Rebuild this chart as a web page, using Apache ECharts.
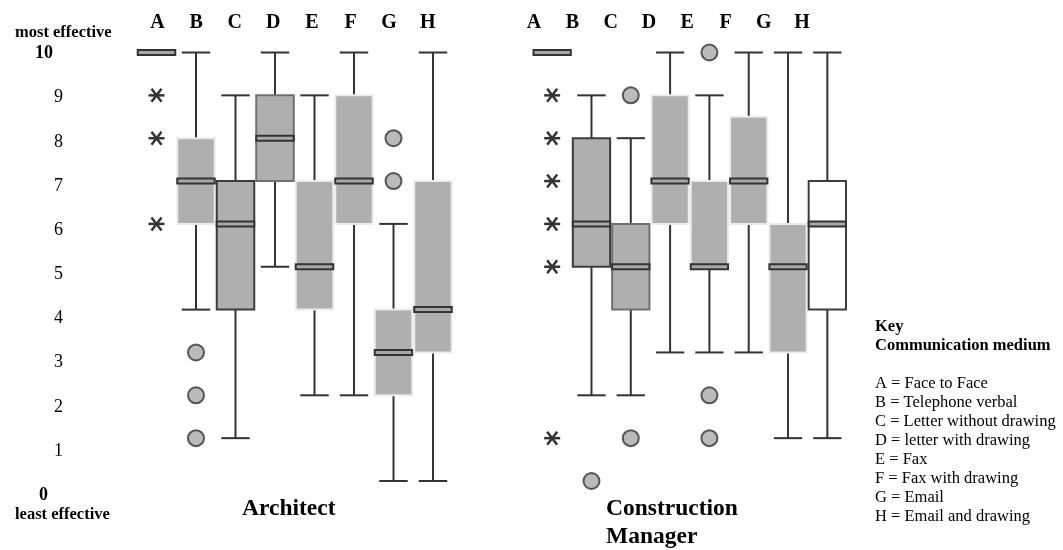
<!DOCTYPE html>
<html>
<head>
<meta charset="utf-8">
<script src="https://cdn.jsdelivr.net/npm/echarts@6/dist/echarts.min.js"></script>
<style>
html,body{margin:0;padding:0;background:#fff}
#c{width:1063px;height:550px}
</style>
</head>
<body>
<div id="c"></div>
<script>
// ---------- data ----------
const categories = ['A', 'B', 'C', 'D', 'E', 'F', 'G', 'H'];
const yTicks = [0, 1, 2, 3, 4, 5, 6, 7, 8, 9, 10];
// [min, q1, median, q3, max] per category
const architectBoxes = [
  [10, 10, 10, 10, 10],
  [4, 6, 7, 8, 10],
  [1, 4, 6, 7, 9],
  [5, 7, 8, 9, 10],
  [2, 4, 5, 7, 9],
  [2, 6, 7, 9, 10],
  [0, 2, 3, 4, 6],
  [0, 3, 4, 7, 10]
];
const architectOutliers = [[1, 3], [1, 2], [1, 1], [6, 8], [6, 7]];
const architectExtremes = [[0, 9], [0, 8], [0, 6]];
const managerBoxes = [
  [10, 10, 10, 10, 10],
  [2, 5, 6, 8, 9],
  [2, 4, 5, 6, 8],
  [3, 6, 7, 9, 10],
  [3, 5, 5, 7, 9],
  [3, 6, 7, 8.5, 10],
  [1, 3, 5, 6, 10],
  [1, 4, 6, 7, 10]
];
const managerOutliers = [[1, 0], [2, 9], [2, 1], [4, 10], [4, 2], [4, 1]];
const managerExtremes = [[0, 9], [0, 8], [0, 7], [0, 6], [0, 5], [0, 1]];
const panelTitles = ['Architect', 'Construction\nManager'];
const keyTitle = ['Key', 'Communication medium'];
const keyLabels = [
  'A = Face to Face',
  'B = Telephone verbal',
  'C = Letter without drawing',
  'D = letter with drawing',
  'E = Fax',
  'F = Fax with drawing',
  'G = Email',
  'H = Email and drawing'
];

// ---------- styles ----------
const SERIF = '"Liberation Serif", "Times New Roman", serif';
const BOX_FILL = '#afafaf';
const LIGHT = '#ececec', DARK = '#3d3d3d', MID = '#707070';
const architectStroke = [null, LIGHT, DARK, MID, LIGHT, LIGHT, LIGHT, LIGHT];
const architectFill = [BOX_FILL, BOX_FILL, BOX_FILL, BOX_FILL, BOX_FILL, BOX_FILL, BOX_FILL, BOX_FILL];
const managerStroke = [null, DARK, MID, LIGHT, LIGHT, LIGHT, LIGHT, DARK];
const managerFill = [BOX_FILL, BOX_FILL, BOX_FILL, BOX_FILL, BOX_FILL, BOX_FILL, BOX_FILL, '#ffffff'];

function boxRows(boxes) {
  return boxes.map((b, i) => [i].concat(b));
}

function makeBoxRender(strokes, fills) {
  return function (params, api) {
    const i = api.value(0);
    const vmin = api.value(1), q1 = api.value(2), med = api.value(3), q3 = api.value(4), vmax = api.value(5);
    const cx = api.coord([i, med])[0];
    const y = v => api.coord([i, v])[1];
    const bw = api.size([1, 0])[0];
    const half = bw / 2;
    const capHalf = bw * 0.36;
    const ls = { stroke: '#333', lineWidth: 2 };
    const ch = [];
    if (vmax > q3) {
      ch.push({ type: 'line', shape: { x1: cx, y1: y(vmax), x2: cx, y2: y(q3) }, style: ls });
      ch.push({ type: 'line', shape: { x1: cx - capHalf, y1: y(vmax), x2: cx + capHalf, y2: y(vmax) }, style: ls });
    }
    if (vmin < q1) {
      ch.push({ type: 'line', shape: { x1: cx, y1: y(q1), x2: cx, y2: y(vmin) }, style: ls });
      ch.push({ type: 'line', shape: { x1: cx - capHalf, y1: y(vmin), x2: cx + capHalf, y2: y(vmin) }, style: ls });
    }
    const idx = params.dataIndex;
    if (q3 > q1) {
      ch.push({
        type: 'rect',
        shape: { x: cx - half + 1, y: y(q3), width: bw - 2, height: y(q1) - y(q3) },
        style: { fill: fills[idx], stroke: strokes[idx] || 'none', lineWidth: 2 }
      });
    }
    ch.push({
      type: 'rect',
      shape: { x: cx - half + 1, y: y(med) - 2.5, width: bw - 2, height: 5 },
      style: { fill: '#a8a8a8', stroke: '#333', lineWidth: 2 }
    });
    return { type: 'group', children: ch };
  };
}

function renderAsterisk(params, api) {
  const p = api.coord([api.value(0), api.value(1)]);
  const x = p[0], y = p[1];
  const st = { stroke: '#333', lineWidth: 2.5 };
  return {
    type: 'group',
    children: [
      { type: 'line', shape: { x1: x - 8, y1: y, x2: x + 8, y2: y }, style: st },
      { type: 'line', shape: { x1: x - 5, y1: y - 6.5, x2: x + 5, y2: y + 6.5 }, style: st },
      { type: 'line', shape: { x1: x + 5, y1: y - 6.5, x2: x - 5, y2: y + 6.5 }, style: st }
    ]
  };
}

const chart = echarts.init(document.getElementById('c'), null, { renderer: 'canvas' });

const hiddenCat = g => ({ type: 'category', gridIndex: g, data: categories, show: false, boundaryGap: true });
const hiddenVal = g => ({ type: 'value', gridIndex: g, min: 0, max: 10, show: false });
const letterAxis = g => ({
  type: 'category', gridIndex: g, data: categories, position: 'top', boundaryGap: true,
  axisLine: { show: false }, axisTick: { show: false },
  axisLabel: { margin: 19, fontFamily: SERIF, fontWeight: 'bold', fontSize: 20, lineHeight: 20, color: '#000', interval: 0 }
});

const scatterStyle = { color: '#a9a9a9', borderColor: '#333', borderWidth: 2 };

const option = {
  animation: false,
  backgroundColor: '#fff',
  title: [
    { text: panelTitles[0], left: 242, top: 496, padding: 0,
      textStyle: { fontFamily: SERIF, fontWeight: 'bold', fontSize: 23.5, lineHeight: 26, color: '#000' } },
    { text: panelTitles[1], left: 606, top: 495, padding: 0,
      textStyle: { fontFamily: SERIF, fontWeight: 'bold', fontSize: 23.5, lineHeight: 28, color: '#000' } }
  ],
  grid: [
    { left: 136.75, width: 316, top: 52.5, height: 428.5 },
    { left: 532.5, width: 314.5, top: 52.5, height: 428.5 },
    { left: 138.2, width: 308.8, top: 52, height: 100 },
    { left: 514.85, width: 306.4, top: 52, height: 100 },
    { left: 70, width: 10, top: 53.5, height: 441.8 }
  ],
  xAxis: [
    hiddenCat(0), hiddenCat(1), letterAxis(2), letterAxis(3),
    { type: 'value', gridIndex: 4, show: false }
  ],
  yAxis: [
    hiddenVal(0), hiddenVal(1), hiddenVal(2), hiddenVal(3),
    {
      type: 'value', gridIndex: 4, min: yTicks[0], max: yTicks[yTicks.length - 1], interval: 1,
      axisLine: { show: false }, axisTick: { show: false }, splitLine: { show: false },
      axisLabel: {
        margin: 7, fontFamily: SERIF, fontSize: 18, color: '#000',
        formatter: v => v === 10 ? '{b10|10}' : (v === 0 ? '{b0|0}' : String(v)),
        rich: {
          b10: { fontFamily: SERIF, fontWeight: 'bold', fontSize: 18, padding: [0, 10, 0, 0] },
          b0: { fontFamily: SERIF, fontWeight: 'bold', fontSize: 18, padding: [0, 15, 0, 0] }
        }
      }
    }
  ],
  graphic: [
    { type: 'text', x: 15, y: 33, style: { text: 'most effective', font: 'bold 16.5px ' + SERIF, fill: '#000', verticalAlign: 'middle' } },
    { type: 'text', x: 15, y: 515, style: { text: 'least effective', font: 'bold 16.5px ' + SERIF, fill: '#000', verticalAlign: 'middle' } }
  ].concat(keyTitle.map((t, k) => ({
    type: 'text', x: 875, y: 327 + 18.5 * k,
    style: { text: t, font: 'bold 16.5px ' + SERIF, fill: '#000', verticalAlign: 'middle' }
  }))).concat(keyLabels.map((t, k) => ({
    type: 'text', x: 875, y: 383.5 + 19 * k,
    style: { text: t, font: '16.5px ' + SERIF, fill: '#000', verticalAlign: 'middle' }
  }))),
  series: [
    { type: 'custom', xAxisIndex: 0, yAxisIndex: 0, renderItem: makeBoxRender(architectStroke, architectFill),
      data: boxRows(architectBoxes), encode: { x: 0, y: [1, 2, 3, 4, 5] }, clip: false, silent: true },
    { type: 'custom', xAxisIndex: 1, yAxisIndex: 1, renderItem: makeBoxRender(managerStroke, managerFill),
      data: boxRows(managerBoxes), encode: { x: 0, y: [1, 2, 3, 4, 5] }, clip: false, silent: true },
    { type: 'scatter', xAxisIndex: 0, yAxisIndex: 0, data: architectOutliers, symbol: 'circle', symbolSize: 16,
      itemStyle: scatterStyle, clip: false, silent: true },
    { type: 'scatter', xAxisIndex: 1, yAxisIndex: 1, data: managerOutliers, symbol: 'circle', symbolSize: 16,
      itemStyle: scatterStyle, clip: false, silent: true },
    { type: 'custom', xAxisIndex: 0, yAxisIndex: 0, renderItem: renderAsterisk, data: architectExtremes,
      encode: { x: 0, y: 1 }, clip: false, silent: true },
    { type: 'custom', xAxisIndex: 1, yAxisIndex: 1, renderItem: renderAsterisk, data: managerExtremes,
      encode: { x: 0, y: 1 }, clip: false, silent: true }
  ]
};
chart.setOption(option);
</script>
</body>
</html>
